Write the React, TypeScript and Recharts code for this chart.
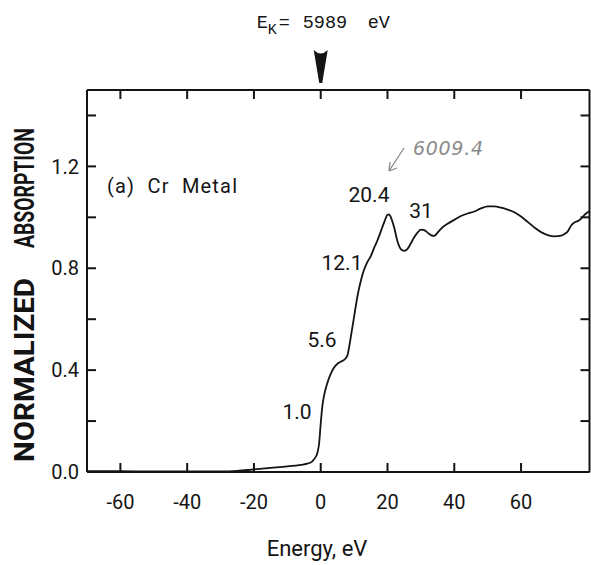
import React from 'react';
import {
  LineChart,
  Line,
  XAxis,
  YAxis,
  ReferenceDot,
  Customized,
} from 'recharts';

// energy relative to the Cr K edge (eV) and normalized absorption
const energy = [
  -70, -60, -50, -40, -30, -25, -20, -15, -10, -5, -3, -2, -1, -0.5, 0, 0.5, 1, 2, 3, 4, 5, 6, 7,
  8, 8.5, 9, 10, 11, 12, 13, 14, 15, 16, 17, 18, 19, 20, 20.5, 21, 22, 23, 24, 25, 26, 27, 28, 29,
  30, 31, 32, 33, 34, 35, 36, 38, 40, 42, 44, 46, 48, 50, 52, 54, 56, 58, 60, 62, 64, 66, 68, 70,
  72, 73, 74, 75, 76, 77, 78, 79, 80, 80.5,
];
const absorption = [
  0.003, 0.003, 0.002, 0.002, 0.002, 0.004, 0.01, 0.016, 0.022, 0.03, 0.037, 0.05, 0.075, 0.11,
  0.19, 0.26, 0.3, 0.35, 0.385, 0.41, 0.425, 0.433, 0.44, 0.458, 0.49, 0.53, 0.61, 0.69, 0.75,
  0.795, 0.825, 0.848, 0.88, 0.91, 0.945, 0.98, 1.01, 1.012, 1.0, 0.96, 0.905, 0.875, 0.868, 0.876,
  0.898, 0.922, 0.94, 0.952, 0.95, 0.94, 0.93, 0.927, 0.94, 0.955, 0.975, 0.99, 1.005, 1.015, 1.023,
  1.035, 1.043, 1.043, 1.038, 1.03, 1.02, 1.003, 0.982, 0.96, 0.942, 0.93, 0.925, 0.928, 0.935,
  0.945, 0.968, 0.98, 0.985, 0.995, 1.01, 1.02, 1.025,
];

const xTicks = [-60, -40, -20, 0, 20, 40, 60];
const yTicks = [0, 0.2, 0.4, 0.6, 0.8, 1.0, 1.2, 1.4];
const yLabelled = [0, 0.4, 0.8, 1.2];

const data = energy.map((e, i) => ({ e, a: absorption[i] }));

const narrow = "Roboto, 'Liberation Sans', sans-serif";
const ink = '#141414';

const EdgeArrow = (props: any) => {
  const { cx, cy } = props;
  if (cx == null || cy == null) return null;
  return (
    <g>
      <text y={28} fontFamily="'Liberation Mono', 'DejaVu Sans Mono', monospace" fontSize={18.5} fill={ink}>
        <tspan x={cx - 64}>E</tspan>
        <tspan x={cx - 53} dy={6} fontSize={15}>K</tspan>
        <tspan x={cx - 42} dy={-6}>=</tspan>
        <tspan x={cx - 18}>5989</tspan>
        <tspan x={cx + 47}>eV</tspan>
      </text>
      <path
        d={`M ${cx - 7} ${cy - 40} Q ${cx} ${cy - 33} ${cx + 7} ${cy - 40} L ${cx + 1.5} ${cy - 7} L ${cx - 1.5} ${cy - 7} Z`}
        fill={ink}
      />
    </g>
  );
};

const Notes = () => (
  <g fontFamily={narrow} fill={ink}>
    <text x={25} y={188} transform="rotate(-90 25 188)" textAnchor="middle" dominantBaseline="central"
      fontSize={27} fontWeight="bold" textLength={120} lengthAdjust="spacingAndGlyphs">ABSORPTION</text>
    <text x={25} y={370} transform="rotate(-90 25 370)" textAnchor="middle" dominantBaseline="central"
      fontSize={27} fontWeight="bold" textLength={184} lengthAdjust="spacingAndGlyphs">NORMALIZED</text>
    <text x={107} y={193} fontSize={20} style={{ whiteSpace: 'pre' }} textLength={130}>(a)  Cr  Metal</text>
    <text x={297} y={419} fontSize={21} textAnchor="middle">1.0</text>
    <text x={322} y={347} fontSize={21} textAnchor="middle">5.6</text>
    <text x={342} y={270} fontSize={21} textAnchor="middle">12.1</text>
    <text x={369} y={202} fontSize={21} textAnchor="middle">20.4</text>
    <text x={421} y={218} fontSize={21} textAnchor="middle">31</text>
    <text x={317} y={556} fontSize={22} textAnchor="middle">Energy, eV</text>
    <text x={413} y={155} fontSize={19} fontStyle="italic" fill="#8a8a8a"
      fontFamily="'DejaVu Sans', sans-serif" textLength={70}>6009.4</text>
    <path d="M 404 148 L 389 171 M 389 171 L 390 162 M 389 171 L 397 168" stroke="#8a8a8a" strokeWidth={1.3} fill="none" />
  </g>
);

const blank = () => '';

export default function App() {
  const axisStroke = { stroke: ink, strokeWidth: 2 };
  return (
    <div style={{ position: 'absolute', left: 0, top: 0, background: '#fff' }}>
      <LineChart width={591} height={565} data={data} margin={{ top: 89, right: 0.5, bottom: 0, left: 7 }}>
        <XAxis
          xAxisId="bottom"
          dataKey="e"
          type="number"
          domain={[-70, 80.5]}
          ticks={xTicks}
          allowDataOverflow
          height={93}
          tickSize={-9}
          tickMargin={32}
          axisLine={axisStroke}
          tickLine={axisStroke}
          tick={{ fill: ink, fontSize: 20, fontFamily: narrow }}
        />
        <XAxis
          xAxisId="top"
          orientation="top"
          dataKey="e"
          type="number"
          domain={[-70, 80.5]}
          ticks={xTicks}
          allowDataOverflow
          height={1}
          tickSize={-9}
          axisLine={axisStroke}
          tickLine={axisStroke}
          tickFormatter={blank}
        />
        <YAxis
          yAxisId="left"
          type="number"
          domain={[0, 1.5]}
          ticks={yTicks}
          allowDataOverflow
          width={80}
          tickSize={-9}
          tickMargin={17}
          axisLine={axisStroke}
          tickLine={axisStroke}
          tick={{ fill: ink, fontSize: 20, fontFamily: narrow }}
          tickFormatter={(v: number) => (yLabelled.some((t) => Math.abs(t - v) < 1e-6) ? v.toFixed(1) : '')}
        />
        <YAxis
          yAxisId="right"
          orientation="right"
          type="number"
          domain={[0, 1.5]}
          ticks={yTicks}
          allowDataOverflow
          width={1}
          tickSize={-9}
          axisLine={axisStroke}
          tickLine={axisStroke}
          tickFormatter={blank}
        />
        <Line
          xAxisId="bottom"
          yAxisId="left"
          type="monotone"
          dataKey="a"
          stroke={ink}
          strokeWidth={1.8}
          dot={false}
          isAnimationActive={false}
        />
        <ReferenceDot xAxisId="bottom" yAxisId="left" x={0} y={1.5} r={0} ifOverflow="visible" shape={EdgeArrow} />
        <Customized component={Notes} />
      </LineChart>
    </div>
  );
}
